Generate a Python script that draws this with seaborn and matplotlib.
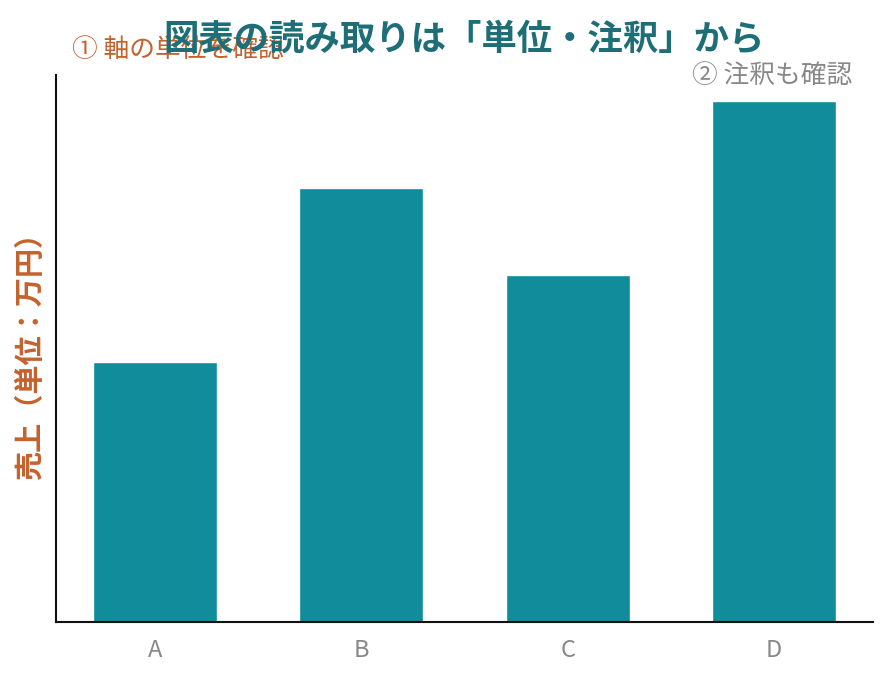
import matplotlib
matplotlib.use("Agg")
import pandas as pd
import seaborn as sns
import matplotlib.pyplot as plt

# data
categories = ["A", "B", "C", "D"]
sales = [30, 50, 40, 60]

sns.set_style("white")
plt.rcParams["font.family"] = ["Noto Sans CJK JP", "DejaVu Sans"]

df = pd.DataFrame({"category": categories, "sales": sales})

fig, ax = plt.subplots(figsize=(8.89, 6.8), dpi=100)
fig.subplots_adjust(left=0.063, right=0.982, bottom=0.085, top=0.89)

sns.barplot(data=df, x="category", y="sales", color="#108C9A", saturation=1,
            width=0.6, ax=ax)

# plain matplotlib margins on x instead of seaborn's fixed limits
ax.set_autoscalex_on(True)
ax.margins(x=0.05)
ax.autoscale_view()

ax.set_yticks([])
ax.set_xlabel("")
ax.set_ylabel("売上（単位：万円）", color="#C4622D", fontsize=21, fontweight="bold",
              labelpad=8)
ax.tick_params(axis="x", colors="#888888", labelsize=17, length=6, width=1.5, pad=6)

sns.despine(ax=ax)
for side in ["left", "bottom"]:
    ax.spines[side].set_color("#111111")
    ax.spines[side].set_linewidth(1.5)

ax.set_title("図表の読み取りは「単位・注釈」から", color="#1E6E78",
             fontsize=25.5, fontweight="bold", pad=18)

ax.text(0.02, 1.045, "① 軸の単位を確認", transform=ax.transAxes,
        color="#C4622D", fontsize=18.5, ha="left", va="center")
ax.text(0.975, 0.997, "② 注釈も確認", transform=ax.transAxes,
        color="#888888", fontsize=18.5, ha="right", va="center")

fig.savefig("out.png", dpi=100)
